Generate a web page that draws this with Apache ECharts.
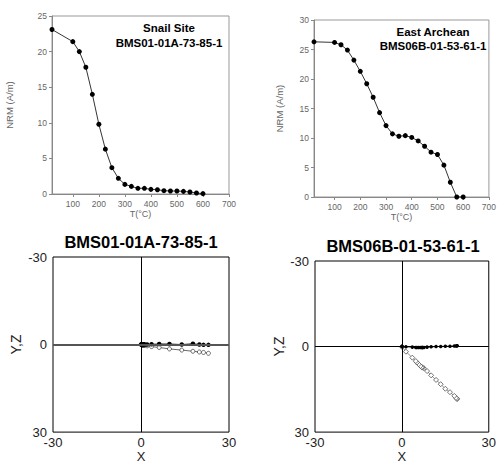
<!DOCTYPE html>
<html><head><meta charset="utf-8">
<script src="https://cdn.jsdelivr.net/npm/echarts@6/dist/echarts.min.js"></script>
<style>html,body{margin:0;padding:0;background:#fff}#c{width:499px;height:464px}</style>
</head><body><div id="c"></div>
<script>
// Thermal demagnetization steps (°C)
var temps = [20,100,125,150,175,200,225,250,275,300,325,350,375,400,425,450,475,500,525,550,575,600];
var tTicks = [100,200,300,400,500,600,700];
// NRM intensity (A/m)
var nrmSnail = [23.1,21.4,20.0,17.8,14.0,9.8,6.3,3.7,2.2,1.35,1.07,0.8,0.8,0.65,0.6,0.47,0.42,0.42,0.37,0.28,0.14,0.05];
var nrmEast  = [26.3,26.2,25.8,24.9,23.2,21.3,19.2,16.9,14.3,12.1,10.7,10.3,10.4,10.1,9.5,8.6,7.6,7.2,5.4,2.5,0.0,0.0];
// Zijderveld components, Snail site BMS01-01A-73-85-1
var xSnail = [23.0,21.3,19.9,17.7,13.9,9.7,6.2,3.6,2.1,1.3,1.0,0.75,0.75,0.6,0.55,0.45,0.4,0.4,0.35,0.25,0.12,0.05];
var ySnail = [0.1,0.1,0.0,-0.3,0.0,-0.2,-0.2,-0.1,0,0,0,0,0,0,0,0,0,0,0,0,0,0];
var zSnail = [3.0,2.7,2.55,2.3,1.9,1.5,1.0,0.7,0.45,0.3,0.25,0.2,0.2,0.15,0.15,0.1,0.1,0.1,0.08,0.05,0.03,0.01];
// Zijderveld components, East Archean BMS06B-01-53-61-1
var xEast = [19.1,19.0,18.7,18.1,16.6,15.0,13.4,11.8,10.1,8.7,7.6,7.1,7.0,6.9,6.4,5.8,5.2,4.8,3.6,1.4,0.1,0.0];
var yEast = [-0.3,-0.3,-0.2,-0.2,-0.1,-0.1,0,0,0.1,0.2,0.3,0.3,0.3,0.3,0.3,0.3,0.3,0.3,0.2,0.1,0,0];
var zEast = [18.4,18.3,18.0,17.3,16.0,14.8,13.2,11.7,10.1,8.6,7.6,7.4,7.3,7.2,6.8,6.2,5.6,5.1,3.9,1.8,0.1,0.05];
var zijTicks = [-30,0,30];

function zip(a,b){return a.map(function(v,i){return [v,b[i]];});}

var chart = echarts.init(document.getElementById('c'), null, {renderer:'svg'});
var F = 'Liberation Sans, Arial, sans-serif';
var grey = '#666';

function topX(i){
  return {gridIndex:i, type:'value', min:20, max:700,
    axisLine:{show:true, lineStyle:{color:'#888', width:1}},
    axisTick:{show:true, length:3, lineStyle:{color:'#888'}, customValues:tTicks},
    axisLabel:{color:grey, fontSize:8.5, fontFamily:F, margin:5, customValues:tTicks},
    splitLine:{show:false},
    name:'T(°C)', nameLocation:'middle', nameGap:15,
    nameTextStyle:{color:grey, fontSize:9, fontFamily:F}};
}
function topY(i,max,gap){
  return {gridIndex:i, type:'value', min:0, max:max, interval:5,
    axisLine:{show:true, lineStyle:{color:'#888', width:1}},
    axisTick:{show:true, length:3, lineStyle:{color:'#888'}},
    axisLabel:{color:grey, fontSize:8.5, fontFamily:F, margin:5},
    splitLine:{show:false},
    name:'NRM (A/m)', nameLocation:'middle', nameGap:gap, nameRotate:90,
    nameTextStyle:{color:grey, fontSize:9.5, fontFamily:F}};
}
function zX(i,gap){
  return {gridIndex:i, type:'value', min:-30, max:30, interval:30,
    axisLine:{show:false}, axisTick:{show:false}, splitLine:{show:false},
    axisLabel:{color:'#222', fontSize:13, fontFamily:F, margin:4, customValues:zijTicks},
    name:'X', nameLocation:'middle', nameGap:gap,
    nameTextStyle:{color:'#222', fontSize:13, fontFamily:F}};
}
function zY(i,gap){
  return {gridIndex:i, type:'value', min:-30, max:30, interval:30, inverse:true,
    axisLine:{show:false}, axisTick:{show:false}, splitLine:{show:false},
    axisLabel:{color:'#222', fontSize:13, fontFamily:F, margin:6, customValues:zijTicks},
    name:'Y,Z', nameLocation:'middle', nameGap:gap, nameRotate:90,
    nameTextStyle:{color:'#222', fontSize:14, fontFamily:F}};
}
function cross(hColor,hWidth){
  return {silent:true, symbol:'none', label:{show:false},
    data:[{xAxis:0, lineStyle:{color:'#000', width:1, type:'solid'}},
          {yAxis:0, lineStyle:{color:hColor, width:hWidth, type:'solid'}}],
    animation:false};
}

var option = {
  animation:false,
  backgroundColor:'#fff',
  grid:[
    {left:52, top:16, width:177, height:178, show:true, borderColor:'#999', borderWidth:1},
    {left:314, top:20, width:177, height:177, show:true, borderColor:'#999', borderWidth:1},
    {left:53, top:257, width:176, height:177, show:true, borderColor:'#000', borderWidth:1},
    {left:315, top:261, width:176, height:176, show:true, borderColor:'#000', borderWidth:1}
  ],
  xAxis:[topX(0), topX(1), zX(2,11), zX(3,14)],
  yAxis:[topY(0,25,38), topY(1,30,30), zY(2,30), zY(3,27)],
  graphic:[
    {type:'text', x:169, y:28, style:{text:'Snail Site', fill:'#000', font:'bold 11.5px '+F, textAlign:'center', textVerticalAlign:'middle'}},
    {type:'text', x:169, y:43, style:{text:'BMS01-01A-73-85-1', fill:'#000', font:'bold 11.5px '+F, textAlign:'center', textVerticalAlign:'middle'}},
    {type:'text', x:433, y:32, style:{text:'East Archean', fill:'#000', font:'bold 11.5px '+F, textAlign:'center', textVerticalAlign:'middle'}},
    {type:'text', x:433, y:46, style:{text:'BMS06B-01-53-61-1', fill:'#000', font:'bold 11.5px '+F, textAlign:'center', textVerticalAlign:'middle'}},
    {type:'text', x:141, y:242, style:{text:'BMS01-01A-73-85-1', fill:'#000', font:'bold 16.5px '+F, textAlign:'center', textVerticalAlign:'middle'}},
    {type:'text', x:403, y:246, style:{text:'BMS06B-01-53-61-1', fill:'#000', font:'bold 16.5px '+F, textAlign:'center', textVerticalAlign:'middle'}}
  ],
  series:[
    {type:'line', xAxisIndex:0, yAxisIndex:0, data:zip(temps,nrmSnail), symbol:'circle', symbolSize:5,
      itemStyle:{color:'#000'}, lineStyle:{color:'#000', width:0.8}},
    {type:'line', xAxisIndex:1, yAxisIndex:1, data:zip(temps,nrmEast), symbol:'circle', symbolSize:5,
      itemStyle:{color:'#000'}, lineStyle:{color:'#000', width:0.8}},
    {type:'line', xAxisIndex:2, yAxisIndex:2, data:zip(xSnail,zSnail), symbol:'circle', symbolSize:4,
      itemStyle:{color:'#fff', borderColor:'#444', borderWidth:0.8}, lineStyle:{color:'#444', width:0.8}, z:3},
    {type:'line', xAxisIndex:2, yAxisIndex:2, data:zip(xSnail,ySnail), symbol:'circle', symbolSize:4.5,
      itemStyle:{color:'#000'}, lineStyle:{color:'#000', width:0.8}, markLine:cross('#555',1.8), z:4},
    {type:'line', xAxisIndex:3, yAxisIndex:3, data:zip(xEast,zEast), symbol:'diamond', symbolSize:5,
      itemStyle:{color:'#fff', borderColor:'#555', borderWidth:0.8}, lineStyle:{color:'#777', width:0.8}, z:3},
    {type:'line', xAxisIndex:3, yAxisIndex:3, data:zip(xEast,yEast), symbol:'circle', symbolSize:3.5,
      itemStyle:{color:'#000'}, lineStyle:{color:'#000', width:0.8}, markLine:cross('#000',1.2), z:4}
  ]
};
chart.setOption(option);
</script></body></html>
